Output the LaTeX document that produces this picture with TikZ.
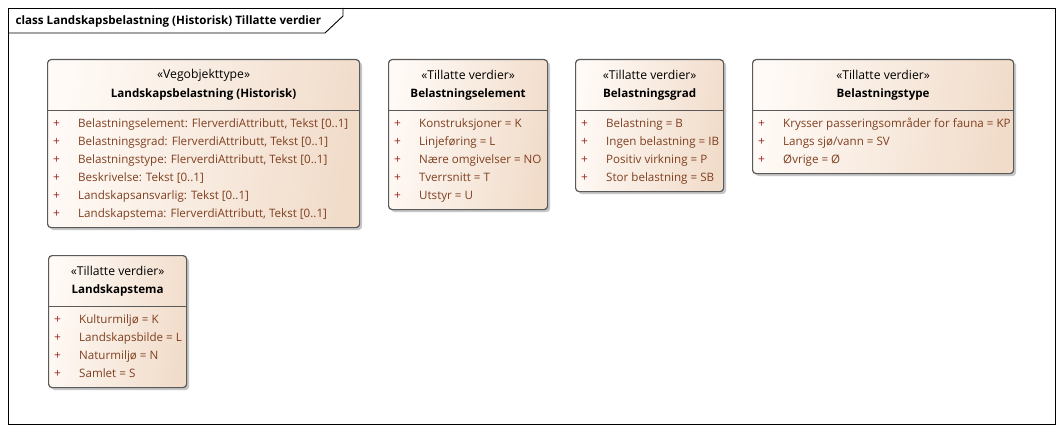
\documentclass[tikz,border=0pt]{standalone}
\usepackage{fontspec}
\setmainfont{Open Sans}
\usetikzlibrary{shadows,calc}
\definecolor{attrc}{HTML}{7F3F1F}
\definecolor{plusc}{HTML}{9A2A22}
\definecolor{boxl}{HTML}{FFFAF6}
\definecolor{boxr}{HTML}{F1DCCA}
\definecolor{edgec}{HTML}{5A5A5A}
\tikzset{
  classbox/.style={draw=edgec, line width=1.2pt, rounded corners=3.5pt, left color=boxl, right color=boxr, shading angle=80,
    drop shadow={shadow xshift=2.5pt, shadow yshift=-2.5pt, fill=black!22, opacity=1}, inner sep=0pt},
  stereo/.style={font=\fontsize{12.2}{14}\selectfont, inner sep=0pt, anchor=center},
  cname/.style={font=\fontsize{11.6}{14}\selectfont\bfseries, inner sep=0pt, anchor=center},
  attr/.style={font=\fontsize{11.6}{14}\selectfont, text=attrc, inner sep=0pt, anchor=base west},
  plus/.style={font=\fontsize{11.9}{14}\selectfont, text=plusc, inner sep=0pt, anchor=base},
  sepline/.style={draw=edgec, line width=0.8pt},
  frameline/.style={draw=black, line width=0.9pt},
}
% #1 name, #2 x, #3 y, #4 w, #5 n attrs, #6 stereotype, #7 title
\newcommand\umlclassbox[7]{%
  \node[classbox, anchor=north west, minimum width=#4pt, minimum height={60pt+18pt*#5}] (#1) at (#2,#3) {};
  \node[stereo] (#1-st) at ($(#1.north)+(0,16)$) {«#6»};
  \node[cname] (#1-nm) at ($(#1.north)+(0,35)$) {#7};
  \draw[sepline] ($(#1.north west)+(0,51)$) -- ($(#1.north east)+(0,51)$);
}
\newcommand\umlattr[3]{% box, index, text
  \node[plus] at ($(#1.north west)+(9.5,{68+18*(#2-1)})$) {+};
  \node[attr] (#1-a#2) at ($(#1.north west)+(31,{68+18*(#2-1)})$) {#3};
}
\begin{document}
\begin{tikzpicture}[x=1pt,y=-1pt]
\useasboundingbox (0,0) rectangle (1064,433);
\fill[white] (0,0) rectangle (1064,433);
% frame
\draw[frameline] (8,8) rectangle (1055.5,424);
\draw[frameline] (8,33) -- (325,33) -- (343,16) -- (343,8);
\node[font=\fontsize{11.6}{14}\selectfont\bfseries, anchor=base west, inner sep=0pt] (ttl) at (15.5,25) {class Landskapsbelastning (Historisk) Tillatte verdier};

\umlclassbox{lb}{47}{59}{312}{6}{Vegobjekttype}{Landskapsbelastning (Historisk)}
\umlattr{lb}{1}{Belastningselement: FlerverdiAttributt, Tekst [0..1]}
\umlattr{lb}{2}{Belastningsgrad: FlerverdiAttributt, Tekst [0..1]}
\umlattr{lb}{3}{Belastningstype: FlerverdiAttributt, Tekst [0..1]}
\umlattr{lb}{4}{Beskrivelse: Tekst [0..1]}
\umlattr{lb}{5}{Landskapsansvarlig: Tekst [0..1]}
\umlattr{lb}{6}{Landskapstema: FlerverdiAttributt, Tekst [0..1]}

\umlclassbox{be}{388}{59}{159}{5}{Tillatte verdier}{Belastningselement}
\umlattr{be}{1}{Konstruksjoner = K}
\umlattr{be}{2}{Linjeføring = L}
\umlattr{be}{3}{Nære omgivelser = NO}
\umlattr{be}{4}{Tverrsnitt = T}
\umlattr{be}{5}{Utstyr = U}

\umlclassbox{bg}{575}{59}{148}{4}{Tillatte verdier}{Belastningsgrad}
\umlattr{bg}{1}{Belastning = B}
\umlattr{bg}{2}{Ingen belastning = IB}
\umlattr{bg}{3}{Positiv virkning = P}
\umlattr{bg}{4}{Stor belastning = SB}

\umlclassbox{bt}{752}{59}{261}{3}{Tillatte verdier}{Belastningstype}
\umlattr{bt}{1}{Krysser passeringsområder for fauna = KP}
\umlattr{bt}{2}{Langs sjø/vann = SV}
\umlattr{bt}{3}{Øvrige = Ø}

\umlclassbox{lt}{48}{255}{138}{4}{Tillatte verdier}{Landskapstema}
\umlattr{lt}{1}{Kulturmiljø = K}
\umlattr{lt}{2}{Landskapsbilde = L}
\umlattr{lt}{3}{Naturmiljø = N}
\umlattr{lt}{4}{Samlet = S}
\end{tikzpicture}
\end{document}
